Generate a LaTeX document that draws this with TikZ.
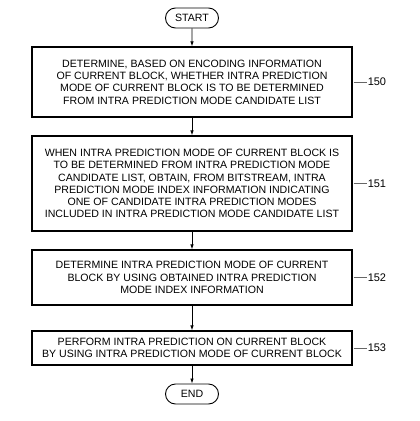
\documentclass[tikz,border=0pt]{standalone}
\usepackage{fontspec}
\setmainfont{Liberation Sans}
\usetikzlibrary{arrows.meta,shapes.misc}
\tikzset{
  stepbox/.style={draw, line width=1.1pt, minimum width=320pt, align=center, inner sep=0pt},
  term/.style={draw, rounded rectangle, line width=0.9pt, minimum width=53pt, minimum height=20pt, inner sep=0pt},
  flow/.style={-{Latex[length=5pt,width=3.5pt]}, line width=0.8pt},
  lead/.style={line width=0.5pt, black!60},
  numeral/.style={anchor=west, inner sep=1pt, font=\fontsize{11}{13}\selectfont}
}
\begin{document}
\begin{tikzpicture}[x=1pt, y=-1pt, font=\fontsize{10.6}{12.3}\selectfont]
  \useasboundingbox (0,0) rectangle (420,421);
  % Start and end
  \node[term] (start) at (192,18) {START};
  \node[term] (end) at (192,394) {END};

  % Steps
  \node[stepbox, minimum height=70pt] (s150) at (192,82) {DETERMINE, BASED ON ENCODING INFORMATION\\OF CURRENT BLOCK, WHETHER INTRA PREDICTION\\MODE OF CURRENT BLOCK IS TO BE DETERMINED\\FROM INTRA PREDICTION MODE CANDIDATE LIST};
  \node[stepbox, minimum height=95pt] (s151) at (192,183.5) {WHEN INTRA PREDICTION MODE OF CURRENT BLOCK IS\\TO BE DETERMINED FROM INTRA PREDICTION MODE\\CANDIDATE LIST, OBTAIN, FROM BITSTREAM, INTRA\\PREDICTION MODE INDEX INFORMATION INDICATING\\ONE OF CANDIDATE INTRA PREDICTION MODES\\INCLUDED IN INTRA PREDICTION MODE CANDIDATE LIST};
  \node[stepbox, minimum height=55pt] (s152) at (192,277.5) {DETERMINE INTRA PREDICTION MODE OF CURRENT\\BLOCK BY USING OBTAINED INTRA PREDICTION\\MODE INDEX INFORMATION};
  \node[stepbox, minimum height=34pt] (s153) at (192,348) {PERFORM INTRA PREDICTION ON CURRENT BLOCK\\BY USING INTRA PREDICTION MODE OF CURRENT BLOCK};

  % Arrows
  \draw[flow] (start) -- (s150);
  \draw[flow] (s150) -- (s151);
  \draw[flow] (s151) -- (s152);
  \draw[flow] (s152) -- (s153);
  \draw[flow] (s153) -- (end);

  % Reference numerals
  \foreach \s/\n in {s150/150, s151/151, s152/152, s153/153} {
    \node[numeral] (l\n) at ([xshift=14pt]\s.east) {\n};
    \draw[lead] ([xshift=1pt]\s.east) -- (l\n.west);
  }
\end{tikzpicture}
\end{document}
